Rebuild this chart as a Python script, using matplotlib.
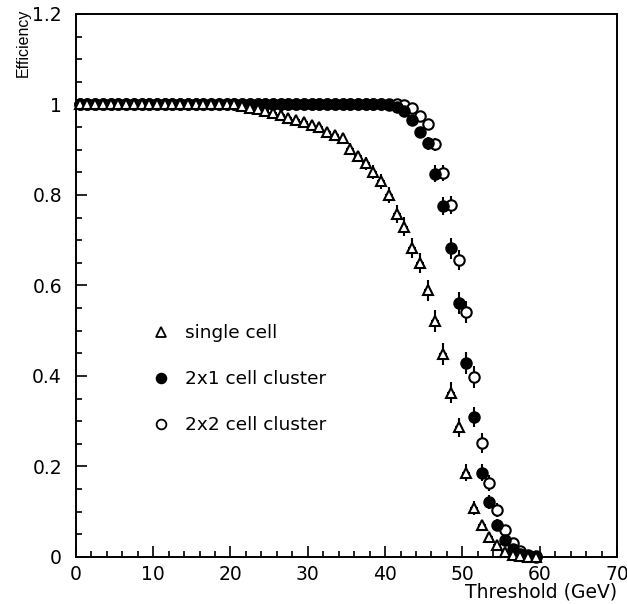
import numpy as np
import matplotlib
matplotlib.use('Agg')
from matplotlib import pyplot as plt
from matplotlib.lines import Line2D
from matplotlib.ticker import MultipleLocator, FormatStrFormatter

plt.rcParams['font.family'] = ['DejaVu Sans']

# threshold bin centres (GeV)
threshold = np.arange(0, 60) + 0.5

# efficiency, single cell
eff_single = [1.0] * 21 + [
    0.996, 0.993, 0.990, 0.986, 0.982, 0.976, 0.971, 0.966, 0.960, 0.955,
    0.949, 0.938, 0.932, 0.925, 0.902, 0.885, 0.870, 0.851, 0.830, 0.800,
    0.757, 0.730, 0.682, 0.649, 0.589, 0.521, 0.448, 0.363, 0.286, 0.186,
    0.108, 0.070, 0.044, 0.026, 0.011, 0.004, 0.001, 0.0, 0.0]
err_single = [0.0] * 21 + [
    0.004, 0.004, 0.005, 0.005, 0.005, 0.006, 0.006, 0.007, 0.007, 0.008,
    0.009, 0.010, 0.010, 0.011, 0.012, 0.013, 0.014, 0.015, 0.016, 0.018,
    0.020, 0.021, 0.022, 0.022, 0.023, 0.024, 0.024, 0.023, 0.022, 0.019,
    0.015, 0.012, 0.010, 0.008, 0.005, 0.003, 0.001, 0.0, 0.0]

# efficiency, 2x1 cell cluster
eff_2x1 = [1.0] * 40 + [
    0.998, 0.994, 0.985, 0.965, 0.938, 0.914, 0.847, 0.776, 0.682, 0.561,
    0.428, 0.309, 0.186, 0.121, 0.071, 0.038, 0.018, 0.006, 0.002, 0.0]
err_2x1 = [0.0] * 40 + [
    0.002, 0.004, 0.006, 0.009, 0.012, 0.014, 0.018, 0.020, 0.023, 0.024,
    0.024, 0.023, 0.019, 0.016, 0.013, 0.009, 0.006, 0.004, 0.002, 0.0]

# efficiency, 2x2 cell cluster
eff_2x2 = [1.0] * 42 + [
    0.998, 0.993, 0.975, 0.956, 0.912, 0.848, 0.777, 0.656, 0.541, 0.397,
    0.252, 0.163, 0.104, 0.060, 0.031, 0.012, 0.004, 0.001]
err_2x2 = [0.0] * 42 + [
    0.002, 0.004, 0.008, 0.010, 0.014, 0.018, 0.020, 0.023, 0.024, 0.024,
    0.022, 0.018, 0.015, 0.011, 0.008, 0.005, 0.003, 0.001]

labels = ['single cell', '2x1 cell cluster', '2x2 cell cluster']

fig = plt.figure(figsize=(6.27, 6.04), dpi=100)
ax = fig.add_axes([0.121, 0.078, 0.863, 0.899])

ms = 7.5
common = dict(ls='none', ecolor='black', elinewidth=1.5, capsize=0,
              markeredgewidth=1.5, markersize=ms, clip_on=False)
ax.errorbar(threshold, eff_2x2, yerr=err_2x2, xerr=0.5, fmt='o',
            mfc='white', mec='black', zorder=3, **common)
ax.errorbar(threshold, eff_2x1, yerr=err_2x1, fmt='o',
            mfc='black', mec='black', zorder=4, **common)
ax.errorbar(threshold, eff_single, yerr=err_single, xerr=0.5, fmt='^',
            mfc='white', mec='black', zorder=5, **common)

ax.set_xlim(0, 70)
ax.set_ylim(0, 1.2)
ax.xaxis.set_major_locator(MultipleLocator(10))
ax.xaxis.set_minor_locator(MultipleLocator(2))
ax.yaxis.set_major_locator(MultipleLocator(0.2))
ax.yaxis.set_minor_locator(MultipleLocator(0.05))
ax.yaxis.set_major_formatter(FormatStrFormatter('%g'))

for s in ax.spines.values():
    s.set_linewidth(1.4)
ax.tick_params(which='both', direction='in', top=False, right=False,
               labelsize=13.5, width=1.2)
ax.tick_params(axis='x', which='major', length=8, pad=6)
ax.tick_params(axis='y', which='major', length=8, pad=10)
ax.tick_params(which='minor', length=4)

ax.set_xlabel('Threshold (GeV)', fontsize=13.5, loc='right')
ax.xaxis.set_label_coords(1.0, -0.048)
ax.set_ylabel('Efficiency', fontsize=11.5, loc='top',
              family=['Liberation Sans', 'DejaVu Sans'])
ax.yaxis.set_label_coords(-0.083, 1.01)

handles = [
    Line2D([], [], ls='none', marker='^', mfc='white', mec='black', ms=7, mew=1.3),
    Line2D([], [], ls='none', marker='o', mfc='black', mec='black', ms=7, mew=1.3),
    Line2D([], [], ls='none', marker='o', mfc='white', mec='black', ms=7, mew=1.3),
]
ax.legend(handles, labels, loc='center left', bbox_to_anchor=(0.14, 0.3275),
          frameon=False, fontsize=13.3, handlelength=1.0, handletextpad=0.8,
          labelspacing=1.52, borderpad=0, borderaxespad=0)

fig.savefig('out.png', dpi=100)
